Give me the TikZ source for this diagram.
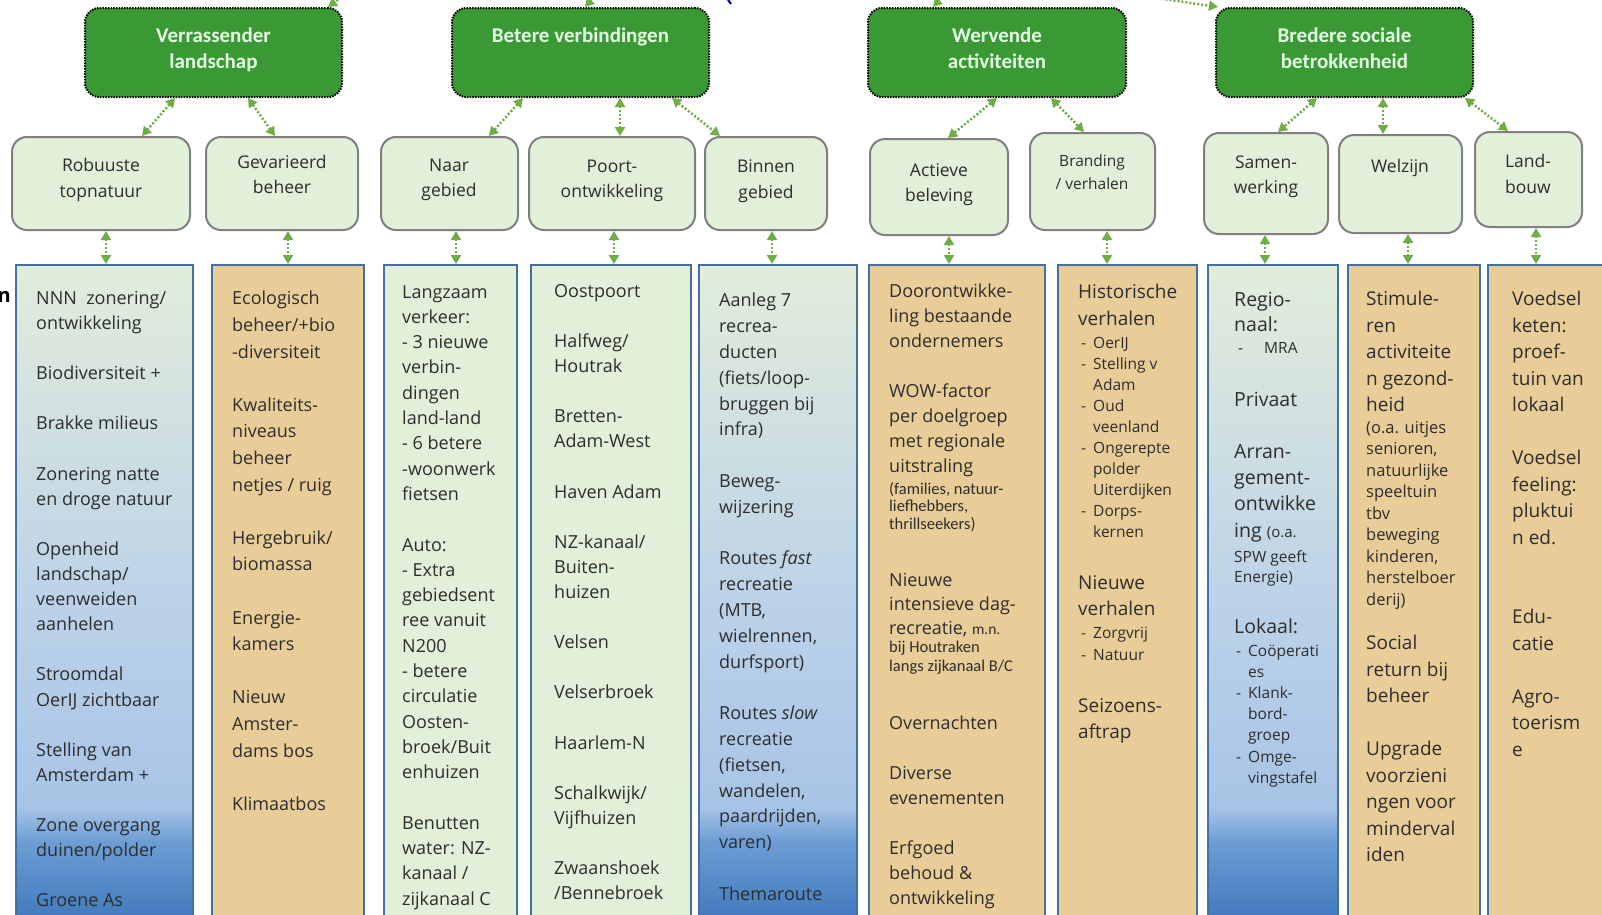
\documentclass[tikz,border=0pt]{standalone}
\usepackage{fontspec}
\setmainfont{Open Sans}
\newfontfamily\hdfont{Carlito}
\usetikzlibrary{arrows.meta}

\definecolor{topgreen}{RGB}{58,153,52}
\definecolor{subfill}{RGB}{226,239,217}
\definecolor{subline}{RGB}{128,128,128}
\definecolor{colline}{RGB}{68,112,158}
\definecolor{papyrus}{RGB}{233,205,152}
\definecolor{linkgreen}{RGB}{112,173,71}
\definecolor{txt}{RGB}{45,45,45}
\definecolor{gtop}{RGB}{226,237,218}
\definecolor{gmid}{RGB}{188,210,232}
\definecolor{gblue1}{RGB}{168,196,230}
\definecolor{gblue2}{RGB}{109,157,212}
\definecolor{gblue3}{RGB}{56,115,184}

\pgfdeclareverticalshading{colgrad}{100bp}{color(0bp)=(gblue3); color(25bp)=(gblue3); color(32bp)=(gblue2); color(34.5bp)=(gblue1); color(50bp)=(gmid); color(75bp)=(gtop); color(100bp)=(gtop)}

\newcommand{\colfont}[1]{\fontsize{18}{#1}\selectfont}
\newcommand{\li}{\makebox[12pt][l]{-}}
\newcommand{\lc}{\hspace*{12pt}}

\tikzset{
  goal/.style={draw=black, line width=2pt, dash pattern=on 1.5pt off 1.2pt, fill=topgreen, rounded corners=14pt, inner sep=0pt},
  goaltext/.style={text=white!90!green, font=\hdfont\bfseries\fontsize{21}{26}\selectfont, align=center, anchor=north},
  sub/.style={draw=subline, line width=2pt, fill=subfill, rounded corners=15pt, inner sep=0pt},
  subtext/.style={text=txt, font=\fontsize{17.5}{25.5}\selectfont, align=center},
  col/.style={draw=colline, line width=2pt, anchor=north west, minimum height=670pt, inner sep=0pt},
  coltext/.style={text=txt, align=left, anchor=north west, inner sep=0pt},
  link/.style={linkgreen, line width=2.5pt, dash pattern=on 2pt off 2pt, >={Triangle[length=9pt,width=10pt]}, <->},
}

\begin{document}
\begin{tikzpicture}[x=1pt, y=-1pt]
    \useasboundingbox (0,0) rectangle (1602,914);
    \clip (0,0) rectangle (1602,914);
    \fill[white] (0,0) rectangle (1602,914);

    % Top goals
    \node[goal, minimum width=257pt, minimum height=89pt] (verr) at (213.5,52.5) {};
    \node[goal, minimum width=257pt, minimum height=89pt] (betere) at (580.5,52.5) {};
    \node[goal, minimum width=258pt, minimum height=89pt] (werv) at (997,52.5) {};
    \node[goal, minimum width=257pt, minimum height=89pt] (bred) at (1344.5,52.5) {};
    \node[goaltext] (verr-t) at (213.5,24) {Verrassender\\landschap};
    \node[goaltext] (betere-t) at (580.5,24) {Betere verbindingen};
    \node[goaltext] (werv-t) at (997,24) {Wervende\\activiteiten};
    \node[goaltext] (bred-t) at (1344.5,24) {Bredere sociale\\betrokkenheid};

    % Sub themes
    \node[sub, minimum width=178pt, minimum height=93pt] (robuust) at (101,183.5) {};
    \node[sub, minimum width=152pt, minimum height=93pt] (gevar) at (282,183.5) {};
    \node[sub, minimum width=137pt, minimum height=93pt] (naar) at (449.5,183.5) {};
    \node[sub, minimum width=166pt, minimum height=93pt] (poort) at (612,183.5) {};
    \node[sub, minimum width=122pt, minimum height=93pt] (binnen) at (766,183.5) {};
    \node[sub, minimum width=138pt, minimum height=96pt] (actief) at (939,187) {};
    \node[sub, minimum width=125pt, minimum height=97pt] (brand) at (1092.5,181.5) {};
    \node[sub, minimum width=124pt, minimum height=101pt] (samen) at (1266,183.5) {};
    \node[sub, minimum width=123pt, minimum height=98pt] (welzijn) at (1400.5,184) {};
    \node[sub, minimum width=107pt, minimum height=95pt] (land) at (1528.5,179.5) {};
    \node[subtext] (robuust-t) at (101,180) {Robuuste\\topnatuur};
    \node[subtext] (gevar-t) at (282,174.5) {Gevarieerd\\beheer};
    \node[subtext] (naar-t) at (449,180) {Naar\\gebied};
    \node[subtext] (poort-t) at (612,181) {Poort-\\ontwikkeling};
    \node[subtext] (binnen-t) at (766,181) {Binnen\\gebied};
    \node[subtext] (actief-t) at (939,184.5) {Actieve\\beleving};
    \node[subtext, font=\fontsize{15.5}{23}\selectfont] (brand-t) at (1092,172.5) {Branding\\/ verhalen};
    \node[subtext] (samen-t) at (1266,177) {Samen-\\werking};
    \node[subtext] (welzijn-t) at (1400,168) {Welzijn};
    \node[subtext] (land-t) at (1528,174) {Land-\\bouw};

    % Columns
    \node[col, shade, shading=colgrad, minimum width=177pt] (col1) at (15,264) {};
    \node[col, fill=papyrus, minimum width=152pt] (col2) at (211,264) {};
    \node[col, fill=subfill, minimum width=133pt] (col3) at (383,264) {};
    \node[col, fill=subfill, minimum width=160pt] (col4) at (530,264) {};
    \node[col, shade, shading=colgrad, minimum width=158pt] (col5) at (698,264) {};
    \node[col, fill=papyrus, minimum width=176pt] (col6) at (868,264) {};
    \node[col, fill=papyrus, minimum width=139pt] (col7) at (1057,264) {};
    \node[col, shade, shading=colgrad, minimum width=130pt] (col8) at (1207,264) {};
    \node[col, fill=papyrus, minimum width=132pt] (col9) at (1347,264) {};
    \node[col, fill=papyrus, minimum width=140pt] (col10) at (1487,264) {};

    % Column texts
    \node[coltext, font=\colfont{25.1}] (col1-t) at (36,291) {NNN\ \ zonering/\\ontwikkeling\\~\\Biodiversiteit +\\~\\Brakke milieus\\~\\Zonering natte\\en droge natuur\\~\\Openheid\\landschap/\\veenweiden\\aanhelen\\~\\Stroomdal\\OerIJ zichtbaar\\~\\Stelling van\\Amsterdam +\\~\\Zone overgang\\duinen/polder\\~\\Groene As};
    \node[coltext, font=\colfont{26.6}] (col2-t) at (232,291) {Ecologisch\\beheer/+bio\\-diversiteit\\~\\Kwaliteits-\\niveaus\\beheer\\netjes / ruig\\~\\Hergebruik/\\biomassa\\~\\Energie-\\kamers\\~\\Nieuw\\Amster-\\dams bos\\~\\Klimaatbos};
    \node[coltext, font=\colfont{25.3}] (col3-t) at (402,285) {Langzaam\\verkeer:\\- 3 nieuwe\\verbin-\\dingen\\land-land\\- 6 betere\\-woonwerk\\fietsen\\~\\Auto:\\- Extra\\gebiedsent\\ree vanuit\\N200\\- betere\\circulatie\\Oosten-\\broek/Buit\\enhuizen\\~\\Benutten\\water: NZ-\\kanaal /\\zijkanaal C};
    \node[coltext, font=\colfont{25.1}] (col4-t) at (554,284) {Oostpoort\\~\\Halfweg/\\Houtrak\\~\\Bretten-\\Adam-West\\~\\Haven Adam\\~\\NZ-kanaal/\\Buiten-\\huizen\\~\\Velsen\\~\\Velserbroek\\~\\Haarlem-N\\~\\Schalkwijk/\\Vijfhuizen\\~\\Zwaanshoek\\/Bennebroek};
    \node[coltext, font=\colfont{25.8}] (col5-t) at (719,293) {Aanleg 7\\recrea-\\ducten\\(fiets/loop-\\bruggen bij\\infra)\\~\\Beweg-\\wijzering\\~\\Routes \textit{fast}\\recreatie\\(MTB,\\wielrennen,\\durfsport)\\~\\Routes \textit{slow}\\recreatie\\(fietsen,\\wandelen,\\paardrijden,\\varen)\\~\\Themaroute};
    \node[coltext, font=\colfont{25}] (col6-a) at (889,284) {Doorontwikke-\\ling bestaande\\ondernemers\\~\\WOW-factor\\per doelgroep\\met regionale\\uitstraling};
    \node[coltext, font=\hdfont\fontsize{16.5}{17.5}\selectfont] (col6-b) at (889,482) {(families, natuur-\\liefhebbers,\\thrillseekers)};
    \node[coltext, font=\colfont{24}] (col6-c) at (889,573) {Nieuwe\\intensieve dag-\\recreatie, {\hdfont\fontsize{15.5}{17}\selectfont m.n.}};
    \node[coltext, font=\hdfont\fontsize{16.5}{19}\selectfont] (col6-d) at (889,641) {bij Houtraken\\langs zijkanaal B/C};
    \node[coltext, font=\colfont{25}] (col6-e) at (889,716) {Overnachten\\~\\Diverse\\evenementen\\~\\Erfgoed\\behoud \&\\ontwikkeling};
    \node[coltext, font=\fontsize{19}{26.5}\selectfont] (col7-a) at (1078,284) {Historische\\verhalen};
    \node[coltext, font=\fontsize{15.5}{21}\selectfont] (col7-b) at (1081,337) {\li OerIJ\\\li Stelling v\\\lc Adam\\\li Oud\\\lc veenland\\\li Ongerepte\\\lc polder\\\lc Uiterdijken\\\li Dorps-\\\lc kernen};
    \node[coltext, font=\fontsize{19}{26.5}\selectfont] (col7-c) at (1078,575) {Nieuwe\\verhalen};
    \node[coltext, font=\fontsize{15.5}{21.5}\selectfont] (col7-d) at (1081,627) {\li Zorgvrij\\\li Natuur};
    \node[coltext, font=\fontsize{19}{26.5}\selectfont] (col7-e) at (1078,698) {Seizoens-\\aftrap};
    \node[coltext, font=\fontsize{19.5}{25}\selectfont] (col8-a) at (1234,292) {Regio-\\naal:};
    \node[coltext, font=\fontsize{15.5}{20}\selectfont] (col8-b) at (1238,342) {\makebox[26pt][l]{-}MRA};
    \node[coltext, font=\fontsize{19.5}{25}\selectfont] (col8-c) at (1234,392) {Privaat};
    \node[coltext, font=\fontsize{19.5}{26.4}\selectfont] (col8-d) at (1234,444) {Arran-\\gement-\\ontwikke\\ing {\fontsize{15}{18}\selectfont (o.a.}};
    \node[coltext, font=\fontsize{15.5}{20}\selectfont] (col8-e) at (1234,550) {SPW geeft\\Energie)};
    \node[coltext, font=\fontsize{19.5}{25}\selectfont] (col8-f) at (1234,618) {Lokaal:};
    \node[coltext, font=\fontsize{15.5}{21.1}\selectfont] (col8-g) at (1236,645) {\li Coöperati\\\lc es\\\li Klank-\\\lc bord-\\\lc groep\\\li Omge-\\\lc vingstafel};
    \node[coltext, font=\fontsize{19}{26.5}\selectfont] (col9-a) at (1366,291) {Stimule-\\ren\\activiteite\\n gezond-\\heid};
    \node[coltext, font=\fontsize{16.5}{21.5}\selectfont] (col9-b) at (1366,421) {(o.a. uitjes\\senioren,\\natuurlijke\\speeltuin\\tbv\\beweging\\kinderen,\\herstelboer\\derij)};
    \node[coltext, font=\fontsize{19}{26.5}\selectfont] (col9-c) at (1366,635) {Social\\return bij\\beheer\\~\\Upgrade\\voorzieni\\ngen voor\\minderval\\iden};
    \node[coltext, font=\fontsize{19}{26.5}\selectfont] (col10-t) at (1512,291) {Voedsel\\keten:\\proef-\\tuin van\\lokaal\\~\\Voedsel\\feeling:\\pluktui\\n ed.\\~\\~\\Edu-\\catie\\~\\Agro-\\toerism\\e};

    % Cut-off letter at the left edge
    \node[anchor=base east, inner sep=0pt, font=\bfseries\fontsize{20}{24}\selectfont] (cutn) at (11,302) {n};

    % Arrows from above
    \coordinate (in1) at (354,-12);
    \coordinate (in2) at (602,-12);
    \coordinate (in3) at (950,-12);
    \coordinate (in4) at (1130,-6);
    \draw[link, ->] (in1) -- (328,0 |- verr.north);
    \draw[link, ->] (in2) -- (585,0 |- betere.north);
    \draw[link, ->] (in3) -- (933,0 |- werv.north);
    \draw[link, ->] (in4) -- (1218,0 |- bred.north);
    \draw[blue!75!black, line width=2pt] (724,-6) -- (731,4);

    % Goals to sub themes
    \draw[link] (175,0 |- verr.south) -- (142,0 |- robuust.north);
    \draw[link] (248,0 |- verr.south) -- (275,0 |- gevar.north);
    \draw[link] (523,0 |- betere.south) -- (489,0 |- naar.north);
    \draw[link] (620,0 |- betere.south) -- (620,0 |- poort.north);
    \draw[link] (672,0 |- betere.south) -- (720,0 |- binnen.north);
    \draw[link] (997,0 |- werv.south) -- (948,0 |- actief.north);
    \draw[link] (1051,0 |- werv.south) -- (1084,0 |- brand.north);
    \draw[link] (1317,0 |- bred.south) -- (1278,0 |- samen.north);
    \draw[link] (1383,0 |- bred.south) -- (1383,0 |- welzijn.north);
    \draw[link] (1465,0 |- bred.south) -- (1508,0 |- land.north);

    % Sub themes to columns
    \draw[link] (106,0 |- robuust.south) -- (106,0 |- col1.north);
    \draw[link] (288,0 |- gevar.south) -- (288,0 |- col2.north);
    \draw[link] (456,0 |- naar.south) -- (456,0 |- col3.north);
    \draw[link] (614,0 |- poort.south) -- (614,0 |- col4.north);
    \draw[link] (772,0 |- binnen.south) -- (772,0 |- col5.north);
    \draw[link] (949,0 |- actief.south) -- (949,0 |- col6.north);
    \draw[link] (1107,0 |- brand.south) -- (1107,0 |- col7.north);
    \draw[link] (1265,0 |- samen.south) -- (1265,0 |- col8.north);
    \draw[link] (1408,0 |- welzijn.south) -- (1408,0 |- col9.north);
    \draw[link] (1536,0 |- land.south) -- (1536,0 |- col10.north);
\end{tikzpicture}
\end{document}
